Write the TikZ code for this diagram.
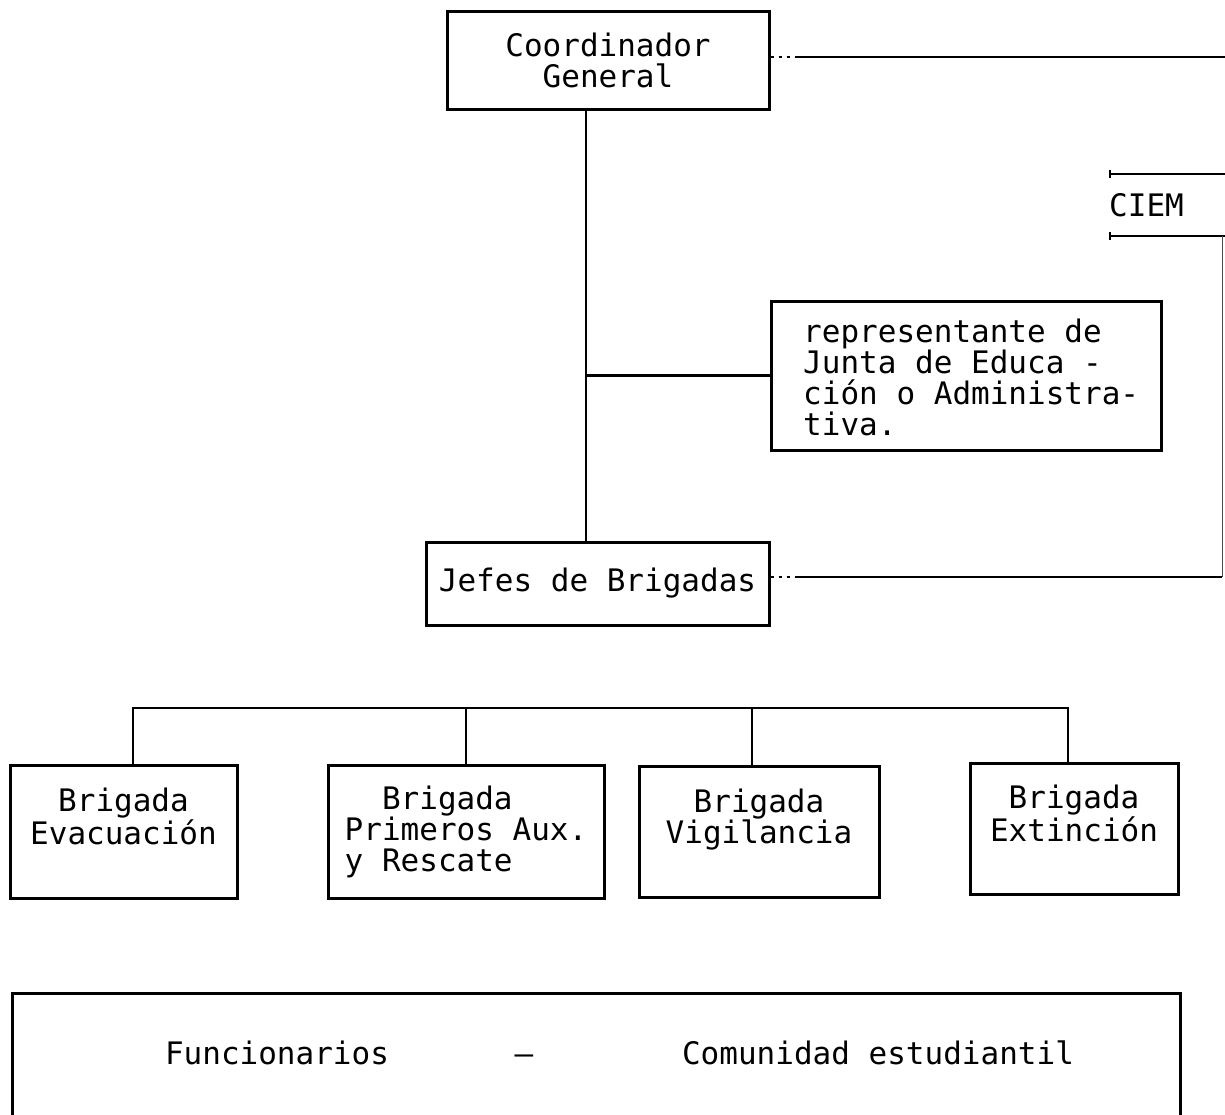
\documentclass[tikz,border=0pt]{standalone}
\usepackage{fontspec}
\newfontfamily\diagmono{DejaVu Sans Mono}
\usetikzlibrary{arrows.meta}
\tikzset{
  boxnode/.style={draw, line width=3pt, inner sep=0pt, align=center,
    font=\diagmono\fontsize{31}{31}\selectfont},
  lbl/.style={inner sep=0pt, font=\diagmono\fontsize{31}{31}\selectfont},
  conn/.style={line width=2.6pt},
  thinconn/.style={line width=1pt, black!70},
  dotpart/.style={line width=2.6pt, dash pattern=on 3pt off 5pt},
}
\begin{document}
\begin{tikzpicture}[x=1pt,y=-1pt]
\useasboundingbox (0,0) rectangle (1225,1114);
\clip (0,0) rectangle (1225,1114);
% main boxes
\node[boxnode, minimum width=322pt, minimum height=98pt] (coord) at (608,60) {Coordinador\\General};
\node[boxnode, minimum width=390pt, minimum height=149pt] (rep) at (966,375.5) {};
\node[lbl, align=left, anchor=west] (rept) at (803,377) {representante de\\Junta de Educa -\\ción o Administra-\\tiva.};
\node[boxnode, minimum width=343pt, minimum height=83pt] (jefes) at (597.5,583.5) {Jefes de Brigadas};
\node[lbl, anchor=west] (ciem) at (1109,205) {CIEM};
% brigades
\node[boxnode, minimum width=227pt, minimum height=133pt] (b1) at (123.5,831.5) {Brigada\\Evacuación\\\mbox{}};
\node[boxnode, minimum width=276pt, minimum height=133pt, align=left] (b2) at (466,831.5) {\hphantom{Pr}Brigada\\Primeros Aux.\\y Rescate};
\node[boxnode, minimum width=240pt, minimum height=131pt] (b3) at (759,831.5) {Brigada\\Vigilancia\\\mbox{}};
\node[boxnode, minimum width=208pt, minimum height=131pt] (b4) at (1074,828.5) {Brigada\\Extinción\\\mbox{}};
% bottom box
\node[boxnode, minimum width=1168pt, minimum height=134pt] (base) at (596,1060) {};
\node[lbl, anchor=base] (func) at (277,1064) {Funcionarios};
\node[lbl, anchor=base] (dash) at (524,1064) {–};
\node[lbl, anchor=base] (comu) at (878,1064) {Comunidad estudiantil};
% coordinates
\coordinate (topy) at (0,57);
\coordinate (topsolid) at (795,57);
\coordinate (topend) at (1230,57);
\coordinate (ciemA) at (1109,174);
\coordinate (ciemAe) at (1230,174);
\coordinate (ciemB) at (1109,236);
\coordinate (ciemBe) at (1230,236);
\coordinate (jefy) at (0,577);
\coordinate (jefsolid) at (795,577);
\coordinate (rcorner) at (1222,577);
\coordinate (rtop) at (1222,236);
\coordinate (vx) at (586,0);
\coordinate (bus1) at (133,708);
\coordinate (bus2) at (466,708);
\coordinate (bus3) at (752,708);
\coordinate (bus4) at (1068,708);
% connectors
\draw[conn] (coord.south -| vx) -- (jefes.north -| vx);
\draw[conn] (rep.west -| vx) -- (rep.west);
\draw[dotpart] (coord.east |- topy) -- (topsolid);
\draw[conn] (topsolid) -- (topend);
\draw[conn, {Bar[width=8pt,line width=1.6pt]}-] (ciemA) -- (ciemAe);
\draw[conn, {Bar[width=8pt,line width=1.6pt]}-] (ciemB) -- (ciemBe);
\draw[dotpart] (jefes.east |- jefy) -- (jefsolid);
\draw[conn] (jefsolid) -- (rcorner);
\draw[thinconn] (rcorner) -- (rtop);
\draw[conn, line cap=rect] (bus1) -- (bus4);
\draw[conn] (bus1) -- (bus1 |- b1.north);
\draw[conn] (bus2) -- (bus2 |- b2.north);
\draw[conn] (bus3) -- (bus3 |- b3.north);
\draw[conn] (bus4) -- (bus4 |- b4.north);
\end{tikzpicture}
\end{document}
